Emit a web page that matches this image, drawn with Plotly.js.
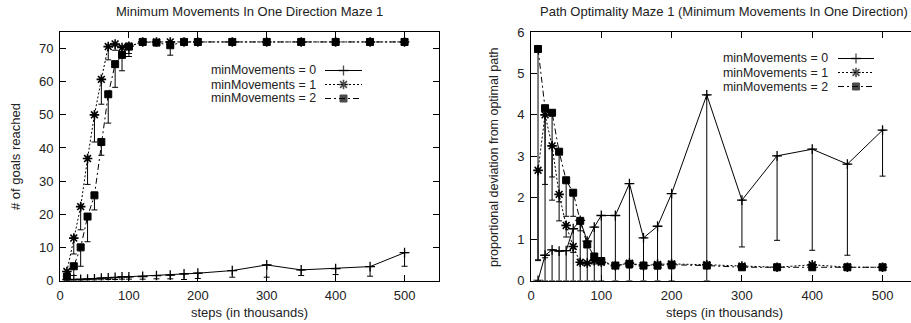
<!DOCTYPE html>
<html>
<head>
<meta charset="utf-8">
<script src="https://cdn.plot.ly/plotly-3.0.1.min.js"></script>
<style>
  html, body { margin: 0; padding: 0; overflow: hidden; background: #fff; }
  #chart { width: 930px; height: 323px; }
</style>
</head>
<body>
<div id="chart"></div>
<script>
// ---------------- DATA ----------------
const steps = [10, 20, 30, 40, 50, 60, 70, 80, 90, 100, 120, 140, 160, 180, 200, 250, 300, 350, 400, 450, 500];

const seriesNames = ['minMovements = 0', 'minMovements = 1', 'minMovements = 2'];

// Left chart: # of goals reached
const goals0 = [0.2, 0.3, 0.3, 0.4, 0.5, 0.7, 0.8, 0.9, 1.1, 1.1, 1.2, 1.5, 1.6, 2.0, 2.2, 3.0, 4.7, 3.2, 3.6, 4.2, 8.4];
const goals0Low = [0.0, 0.0, 0.0, 0.1, 0.1, 0.2, 0.3, 0.3, 0.4, 0.4, 0.4, 0.5, 0.5, 0.3, 0.6, 1.0, 1.0, 1.5, 1.8, 1.3, 4.3];
const goals1 = [2.7, 12.8, 22.3, 36.8, 50.0, 60.7, 70.6, 71.4, 70.3, 70.7, 72.0, 72.0, 72.0, 72.0, 72.0, 72.0, 72.0, 72.0, 72.0, 72.0, 72.0];
const goals1Low = [1.0, 8.0, 15.3, 29.0, 41.8, 53.2, 66.6, 69.5, 68.0, 68.5, 71.5, 71.5, 71.5, 71.5, 71.5, 71.5, 71.5, 71.5, 71.5, 71.5, 71.5];
const goals2 = [1.2, 4.3, 10.0, 19.3, 25.7, 41.8, 56.2, 65.3, 68.1, 70.6, 72.0, 71.8, 71.0, 72.0, 72.0, 72.0, 72.0, 72.0, 72.0, 72.0, 72.0];
const goals2Low = [0.2, 1.5, 4.3, 11.7, 21.3, 37.8, 47.5, 58.3, 63.3, 67.6, 71.5, 71.0, 68.0, 71.5, 71.5, 71.5, 71.5, 71.5, 71.5, 71.5, 71.5];

// Right chart: proportional deviation from optimal path
const dev0 = [0.0, 0.61, 0.74, 0.71, 0.72, 1.25, 1.45, 0.95, 1.29, 1.57, 1.57, 2.34, 1.03, 1.31, 2.10, 4.48, 1.94, 3.01, 3.17, 2.81, 3.63];
const dev0Low = [0.0, 0.0, 0.0, 0.0, 0.0, 0.0, 0.0, 0.0, 0.0, 0.0, 0.0, 0.0, 0.0, 0.0, 0.0, 0.0, 0.81, 0.97, 0.73, 0.61, 2.52];
const dev1 = [2.66, 4.00, 3.25, 2.08, 1.33, 0.82, 0.44, 0.42, 0.48, 0.44, 0.36, 0.42, 0.36, 0.39, 0.40, 0.38, 0.35, 0.32, 0.38, 0.32, 0.32];
const dev1Low = [0.50, 2.32, 1.94, 1.44, 1.05, 0.68, 0.40, 0.38, 0.40, 0.38, 0.30, 0.32, 0.30, 0.30, 0.30, 0.30, 0.30, 0.28, 0.30, 0.28, 0.28];
const dev2 = [5.59, 4.16, 4.05, 3.11, 2.42, 2.12, 1.44, 0.87, 0.58, 0.47, 0.36, 0.40, 0.36, 0.36, 0.38, 0.36, 0.32, 0.32, 0.32, 0.32, 0.32];
const dev2Low = [0.48, 0.55, 2.50, 1.90, 1.55, 1.55, 1.20, 0.80, 0.50, 0.40, 0.30, 0.30, 0.30, 0.28, 0.28, 0.30, 0.28, 0.28, 0.28, 0.28, 0.28];

const xTicks = [0, 100, 200, 300, 400, 500];
const yTicksLeft = [0, 10, 20, 30, 40, 50, 60, 70];
const yTicksRight = [0, 1, 2, 3, 4, 5, 6];

// ---------------- STYLE ----------------
const W = 930, H = 323;
const fx = px => px / W;
const fy = py => 1 - py / H;
const FONT = 'Liberation Sans, Arial, sans-serif';
const TXT = '#222';
const styles = [
  { dash: 'solid', symbol: 'cross-thin-open', size: 7, lw: 1.3 },
  { dash: '2px,2px', symbol: 'asterisk-open', size: 8, lw: 1.6 },
  { dash: '6px,3px,2px,3px', symbol: 'square', size: 7, lw: 1 }
];

function minus(vals, lows) { return vals.map((v, i) => Math.max(0, v - lows[i])); }

function mk(xa, ya, yvals, lows, s) {
  const st = styles[s];
  return {
    type: 'scatter', mode: 'lines+markers',
    x: steps, y: yvals, xaxis: xa, yaxis: ya,
    showlegend: false, hoverinfo: 'skip',
    line: { color: '#000', width: 1, dash: st.dash },
    marker: { symbol: st.symbol, size: st.size, color: '#000', line: { color: '#000', width: st.lw } },
    error_y: { type: 'data', symmetric: false, array: yvals.map(() => 0), arrayminus: minus(yvals, lows),
               color: '#000', thickness: 1, width: 3 }
  };
}

const traces = [
  mk('x', 'y', goals0, goals0Low, 0),
  mk('x', 'y', goals1, goals1Low, 1),
  mk('x', 'y', goals2, goals2Low, 2),
  mk('x2', 'y2', dev0, dev0Low, 0),
  mk('x2', 'y2', dev1, dev1Low, 1),
  mk('x2', 'y2', dev2, dev2Low, 2)
];

// legend samples (gnuplot style: text left, sample right)
const legRowsLeft = [70.5, 84.5, 98.5];
const legRowsRight = [58.5, 72.5, 86.5];
function legSample(xa, ya, row, s) {
  const st = styles[s];
  return {
    type: 'scatter', mode: 'lines+markers', x: [0, 0.5, 1], y: [row, row, row],
    xaxis: xa, yaxis: ya, showlegend: false, hoverinfo: 'skip', cliponaxis: false,
    line: { color: '#000', width: 1, dash: st.dash },
    marker: { symbol: st.symbol, size: [0, st.size, 0], color: '#000', line: { color: '#000', width: st.lw } }
  };
}
for (let s = 0; s < 3; s++) {
  traces.push(legSample('x3', 'y3', legRowsLeft[s], s));
  traces.push(legSample('x4', 'y4', legRowsRight[s], s));
}

const axBase = {
  showline: true, linecolor: '#000', linewidth: 1, mirror: 'ticks',
  ticks: 'inside', ticklen: 6, tickcolor: '#000', tickwidth: 1,
  showgrid: false, zeroline: false,
  tickfont: { family: FONT, size: 13, color: TXT },
  fixedrange: true
};
const plotTop = fy(32), plotBot = fy(280.5);

const annotations = [];
function ann(text, x, y, opts, size) {
  annotations.push(Object.assign({ text, x: fx(x), y: fy(y), xref: 'paper', yref: 'paper',
    showarrow: false, xanchor: 'center', yanchor: 'middle', borderpad: 0,
    font: { family: FONT, size: size || 13, color: TXT } }, opts || {}));
}
ann('Minimum Movements In One Direction Maze 1', 249, 12);
ann('Path Optimality Maze 1 (Minimum Movements In One Direction)', 724, 12);
ann('steps (in thousands)', 249, 312.5);
ann('steps (in thousands)', 724, 312.5);
ann('# of goals reached', 15, 157, { textangle: -90 });
ann('proportional deviation from optimal path', 494, 157, { textangle: -90 }, 12.5);
for (let s = 0; s < 3; s++) {
  ann(seriesNames[s], 317, legRowsLeft[s], { xanchor: 'right' }, 12.4);
  ann(seriesNames[s], 829, legRowsRight[s], { xanchor: 'right' }, 12.4);
}

const layout = {
  width: W, height: H, autosize: false,
  margin: { l: 0, r: 0, t: 0, b: 0, pad: 0 },
  paper_bgcolor: '#fff', plot_bgcolor: '#fff',
  showlegend: false,
  xaxis: Object.assign({}, axBase, { domain: [fx(60), fx(439)], anchor: 'y', range: [0, 550], tickvals: xTicks, ticklabelstandoff: 3 }),
  yaxis: Object.assign({}, axBase, { domain: [plotBot, plotTop], anchor: 'x', range: [0, 75], tickvals: yTicksLeft, ticklabelstandoff: 3 }),
  xaxis2: Object.assign({}, axBase, { domain: [fx(531), fx(917.7)], anchor: 'y2', range: [0, 550], tickvals: xTicks, ticklabelstandoff: 3 }),
  yaxis2: Object.assign({}, axBase, { domain: [plotBot, plotTop], anchor: 'x2', range: [0, 6], tickvals: yTicksRight, ticklabelstandoff: 3 }),
  xaxis3: { domain: [fx(325), fx(362)], anchor: 'y3', range: [0, 1], visible: false, fixedrange: true },
  yaxis3: { domain: [fy(110), fy(60)], anchor: 'x3', range: [110, 60], visible: false, fixedrange: true },
  xaxis4: { domain: [fx(838), fx(874)], anchor: 'y4', range: [0, 1], visible: false, fixedrange: true },
  yaxis4: { domain: [fy(100), fy(50)], anchor: 'x4', range: [100, 50], visible: false, fixedrange: true },
  annotations
};

Plotly.newPlot('chart', traces, layout, { displayModeBar: false, staticPlot: true });
</script>
</body>
</html>
